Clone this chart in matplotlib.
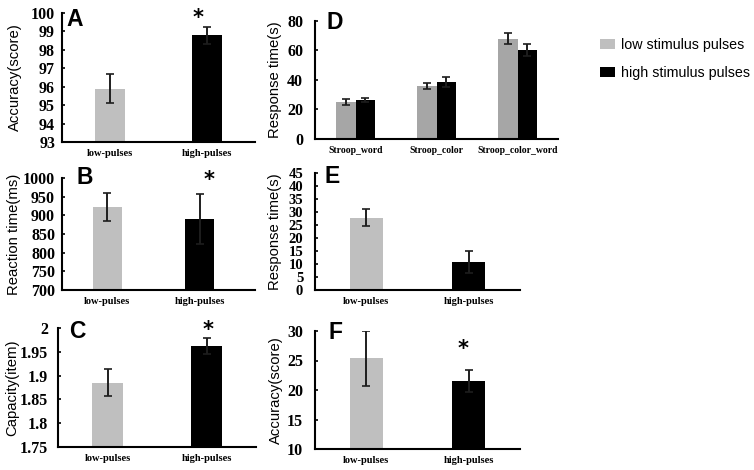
import numpy as np
import matplotlib
matplotlib.use("Agg")
import matplotlib.pyplot as plt
from matplotlib.ticker import FormatStrFormatter
from matplotlib.patches import Patch

# ---------------- data ----------------
groups = ["low-pulses", "high-pulses"]
acc_mean = [95.9, 98.79]
acc_se = [0.80, 0.47]
rt_mean = [923, 891]
rt_se = [38, 67]
cap_mean = [1.885, 1.963]
cap_se = [0.028, 0.017]
cap_ticklabels = ["1.75", "1.8", "1.85", "1.9", "1.95", "2"]

stroop_cats = ["Stroop_word", "Stroop_color", "Stroop_color_word"]
stroop_low = [24.9, 35.9, 68.1]
stroop_low_se = [2.0, 1.8, 3.9]
stroop_high = [26.5, 38.6, 60.5]
stroop_high_se = [1.5, 3.5, 4.2]

resp_mean = [27.8, 10.7]
resp_se = [3.2, 4.3]
accF_mean = [25.35, 21.5]
accF_se = [4.7, 1.9]

legend_labels = ["low stimulus pulses", "high stimulus pulses"]

# ---------------- style ----------------
W, H = 754, 470
fig = plt.figure(figsize=(W / 100, H / 100), dpi=100)

LOW = "#BFBFBF"
LOW_D = "#A6A6A6"
HIGH = "#000000"
SERIF = "Liberation Serif"
SANS = "Liberation Sans"


def axes_px(x0, x1, ytop, ybot):
    return fig.add_axes([x0 / W, 1 - ybot / H, (x1 - x0) / W, (ybot - ytop) / H])


def style(ax, ylim, yticks, fmt, ylabel, ypad, labx, xlabsize=7.5,
          yticklabels=None, ylabsize=11.5):
    for s in ["top", "right"]:
        ax.spines[s].set_visible(False)
    for s in ["left", "bottom"]:
        ax.spines[s].set_linewidth(1.5)
    ax.set_ylim(*ylim)
    ax.set_yticks(yticks)
    if yticklabels is not None:
        ax.set_yticklabels(yticklabels)
    else:
        ax.yaxis.set_major_formatter(FormatStrFormatter(fmt))
    ax.tick_params(axis="y", direction="in", length=2.5, width=1.2, pad=ypad)
    ax.tick_params(axis="x", length=0, pad=5)
    for t in ax.get_yticklabels():
        t.set_fontfamily(SERIF)
        t.set_fontweight("bold")
        t.set_fontsize(ylabsize)
    for t in ax.get_xticklabels():
        t.set_fontfamily(SERIF)
        t.set_fontweight("bold")
        t.set_fontsize(xlabsize)
    ax.set_ylabel(ylabel, fontsize=10.7, family=SANS)
    ax.yaxis.label.set_va("center")
    ax.yaxis.set_label_coords(labx, 0.5)


def errbars(ax, x, means, ses):
    ax.errorbar(x, means, yerr=ses, fmt="none", ecolor="#1e1e1e",
                elinewidth=1.4, capsize=3.2, capthick=1.2, zorder=3)


def two_bar(ax, means, ses, xlim, width=0.31):
    x = np.arange(len(groups))
    ax.bar(x, means, width=width, color=[LOW, HIGH], zorder=2)
    errbars(ax, x, means, ses)
    ax.set_xticks(x)
    ax.set_xticklabels(groups)
    ax.set_xlim(*xlim)


def star(ax, x, y):
    ax.text(x, y, "*", ha="center", va="center", fontsize=15,
            fontweight="bold", family="DejaVu Sans", transform=ax.transData)


# ---------------- Panel A ----------------
axA = axes_px(62, 255, 13, 142)
two_bar(axA, acc_mean, acc_se, (-0.5, 1.5))
style(axA, (93, 100), np.arange(93, 101, 1), "%g", "Accuracy(score)", 5,
      (15 - 62) / 193)
star(axA, 0.91, acc_mean[1] + acc_se[1] + 0.45)

# ---------------- Panel B ----------------
axB = axes_px(62, 255, 178, 290)
two_bar(axB, rt_mean, rt_se, (-0.49, 1.6))
style(axB, (700, 1000), np.arange(700, 1001, 50), "%g", "Reaction time(ms)", 5,
      (14 - 62) / 193)
star(axB, 1.1, rt_mean[1] + rt_se[1] + 36)

# ---------------- Panel C ----------------
axC = axes_px(58, 256, 328, 447)
two_bar(axC, cap_mean, cap_se, (-0.5, 1.5))
style(axC, (1.75, 2.0), np.linspace(1.75, 2.0, 6), "%g", "Capacity(item)", 7,
      (12.5 - 58) / 198, yticklabels=cap_ticklabels)
star(axC, 1.02, cap_mean[1] + cap_se[1] + 0.016)

# ---------------- Panel D ----------------
axD = axes_px(315, 558, 21, 139)
xd = np.arange(len(stroop_cats))
wd = 0.24
axD.bar(xd - wd / 2, stroop_low, width=wd, color=LOW_D, zorder=2)
axD.bar(xd + wd / 2, stroop_high, width=wd, color=HIGH, zorder=2)
errbars(axD, xd - wd / 2, stroop_low, stroop_low_se)
errbars(axD, xd + wd / 2, stroop_high, stroop_high_se)
axD.set_xticks(xd)
axD.set_xticklabels(stroop_cats)
axD.set_xlim(-0.5, 2.5)
style(axD, (0, 80), np.arange(0, 81, 20), "%g", "Response time(s)", 8.5,
      (275.5 - 315) / 243, xlabsize=7)

# ---------------- Panel E ----------------
axE = axes_px(315, 520, 173, 290)
two_bar(axE, resp_mean, resp_se, (-0.5, 1.5), width=0.32)
style(axE, (0, 45), np.arange(0, 46, 5), "%g", "Response time(s)", 8.5,
      (275.5 - 315) / 205, ylabsize=10.5)

# ---------------- Panel F ----------------
axF = axes_px(315, 520, 331, 449)
two_bar(axF, accF_mean, accF_se, (-0.5, 1.5), width=0.32)
style(axF, (10, 30), np.arange(10, 31, 5), "%g", "Accuracy(score)", 8.5,
      (275.5 - 315) / 205)
star(axF, 0.94, accF_mean[1] + accF_se[1] + 3.6)

# ---------------- panel letters ----------------
for letter, (px, py) in zip("ABCDEF", [(66, 26), (76, 184), (69, 338),
                                      (326, 29), (324, 183), (329, 339)]):
    fig.text(px / W, 1 - py / H, letter, fontsize=16.5, fontweight="bold",
             family=SANS, ha="left", va="baseline")

# ---------------- legend ----------------
handles = [Patch(facecolor=LOW, edgecolor="none"),
           Patch(facecolor=HIGH, edgecolor="none")]
fig.legend(handles, legend_labels, loc="upper left",
           bbox_to_anchor=(600 / W, 1 - 38 / H), frameon=False,
           prop=dict(family=SANS, size=10.3),
           handlelength=1.05, handleheight=0.72, handletextpad=0.42,
           labelspacing=1.0, borderpad=0, borderaxespad=0)

fig.savefig("out.png", dpi=100)
